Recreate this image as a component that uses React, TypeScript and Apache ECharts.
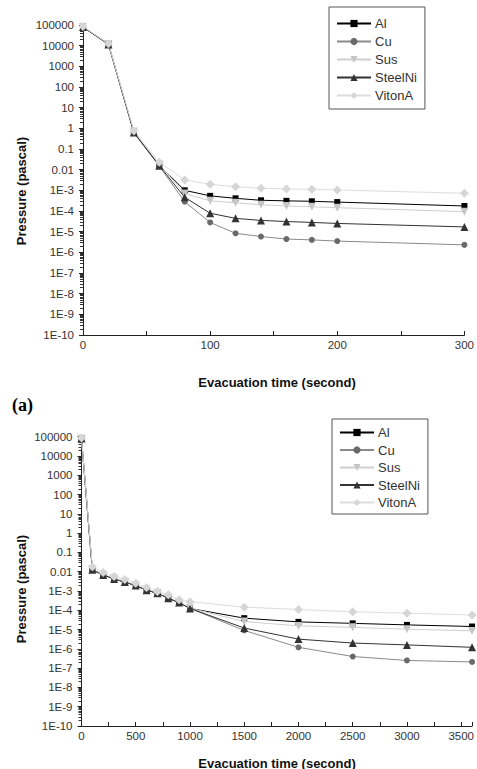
import React, { useEffect, useRef } from "react";
import * as echarts from "echarts";

const seriesNames = ["Al", "Cu", "Sus", "SteelNi", "VitonA"];

// Chart (a)
const timeA = [0, 20, 40, 60, 80, 100, 120, 140, 160, 180, 200, 300];
const alA = [80000, 12000, 0.65, 0.016, 1.0e-3, 5.4e-4, 4.1e-4, 3.3e-4, 3.1e-4, 2.95e-4, 2.7e-4, 1.75e-4];
const cuA = [80000, 12000, 0.62, 0.015, 2.8e-4, 2.8e-5, 8.3e-6, 5.8e-6, 4.4e-6, 4.0e-6, 3.5e-6, 2.3e-6];
const susA = [80000, 12000, 0.7, 0.018, 7.0e-4, 3.1e-4, 2.5e-4, 2.0e-4, 1.75e-4, 1.6e-4, 1.45e-4, 9.3e-5];
const steelNiA = [80000, 11500, 0.62, 0.0155, 4.6e-4, 7.8e-5, 4.4e-5, 3.5e-5, 3.1e-5, 2.8e-5, 2.5e-5, 1.7e-5];
const vitonA_A = [85000, 12500, 0.75, 0.023, 3.2e-3, 1.95e-3, 1.5e-3, 1.26e-3, 1.17e-3, 1.12e-3, 1.04e-3, 7.2e-4];

// Chart (b)
const timeB = [0, 100, 200, 300, 400, 500, 600, 700, 800, 900, 1000, 1500, 2000, 2500, 3000, 3600];
const alB = [80000, 0.0125, 6.8e-3, 4.2e-3, 2.9e-3, 1.9e-3, 1.1e-3, 7.7e-4, 4.2e-4, 2.5e-4, 1.25e-4, 3.9e-5, 2.5e-5, 2.1e-5, 1.75e-5, 1.44e-5];
const cuB = [80000, 0.0125, 6.8e-3, 4.2e-3, 2.9e-3, 1.9e-3, 1.1e-3, 7.7e-4, 4.2e-4, 2.5e-4, 1.25e-4, 9.0e-6, 1.2e-6, 4.0e-7, 2.5e-7, 2.1e-7];
const susB = [80000, 0.013, 7.0e-3, 4.4e-3, 3.0e-3, 2.0e-3, 1.15e-3, 8.0e-4, 4.5e-4, 2.6e-4, 1.3e-4, 2.6e-5, 1.55e-5, 1.3e-5, 1.05e-5, 8.5e-6];
const steelNiB = [80000, 0.0125, 6.8e-3, 4.2e-3, 2.9e-3, 1.9e-3, 1.1e-3, 7.7e-4, 4.2e-4, 2.5e-4, 1.25e-4, 1.2e-5, 3.2e-6, 2.0e-6, 1.6e-6, 1.2e-6];
const vitonA_B = [85000, 0.018, 9.0e-3, 5.6e-3, 4.0e-3, 2.5e-3, 1.5e-3, 9.3e-4, 6.3e-4, 3.5e-4, 2.8e-4, 1.45e-4, 1.1e-4, 8.3e-5, 7.1e-5, 5.7e-5];

// y tick labels, indexed by exponent + 10
const yTickLabels = [
  "1E-10", "1E-9", "1E-8", "1E-7", "1E-6", "1E-5", "1E-4", "1E-3",
  "0.01", "0.1", "1", "10", "100", "1000", "10000", "100000",
];

const styles = [
  { symbol: "rect", size: 6, marker: "#000000", line: "#000000" },
  { symbol: "circle", size: 6, marker: "#6a6a6a", line: "#8a8a8a" },
  { symbol: "path://M0,0 L10,0 L5,8 Z", size: 8, marker: "#c6c6c6", line: "#cfcfcf" },
  { symbol: "triangle", size: 8, marker: "#333333", line: "#333333" },
  { symbol: "diamond", size: 9, marker: "#d6d6d6", line: "#dddddd" },
];

const FONT = "Liberation Sans";

function makeYAxis(gridIndex: number) {
  return {
    type: "log",
    gridIndex,
    logBase: 10,
    min: 1e-10,
    max: 1e5,
    splitNumber: 15,
    interval: 1,
    axisLine: { show: true, lineStyle: { color: "#222", width: 1 } },
    axisTick: { show: true, length: 4, inside: false, lineStyle: { color: "#222" } },
    minorTick: { show: true, splitNumber: 9, length: 3, lineStyle: { color: "#333" } },
    splitLine: { show: false },
    minorSplitLine: { show: false },
    axisLabel: {
      margin: 9,
      fontFamily: FONT,
      fontSize: 11.5,
      color: "#333",
      formatter: (v: number) => {
        const e = Math.round(Math.log10(v));
        return yTickLabels[e + 10] ?? "";
      },
    },
  };
}

function makeXAxis(gridIndex: number, max: number, interval: number) {
  return {
    type: "value",
    gridIndex,
    min: 0,
    max,
    interval,
    axisLine: { show: true, onZero: false, lineStyle: { color: "#222", width: 1 } },
    axisTick: { show: true, length: 4, inside: true, lineStyle: { color: "#222" } },
    minorTick: { show: true, splitNumber: 2, length: 4, lineStyle: { color: "#222" } },
    splitLine: { show: false },
    axisLabel: {
      margin: 4,
      fontFamily: FONT,
      fontSize: 11.5,
      color: "#333",
      showMaxLabel: max % interval === 0,
      formatter: (v: number) => String(v),
    },
  };
}

function makeSeries(gridIndex: number, xs: number[], data: number[][]) {
  return data.map((ys, i) => ({
    type: "line",
    name: seriesNames[i],
    xAxisIndex: gridIndex,
    yAxisIndex: gridIndex,
    data: xs.map((x, j) => [x, ys[j]]),
    symbol: styles[i].symbol,
    symbolSize: styles[i].size,
    showAllSymbol: true,
    clip: false,
    itemStyle: { color: styles[i].marker },
    lineStyle: { color: styles[i].line, width: 1 },
    emphasis: { disabled: true },
  }));
}

function makeLegend(left: number, top: number, gap: number, padding: number[]) {
  return {
    orient: "vertical",
    left,
    top,
    itemWidth: 34,
    itemHeight: 9,
    itemGap: gap,
    padding,
    borderColor: "#555",
    borderWidth: 1,
    selectedMode: false,
    data: seriesNames,
    textStyle: { fontFamily: FONT, fontSize: 13, color: "#333", padding: [0, 0, 0, -1] },
  };
}

export default function App() {
  const ref = useRef<HTMLDivElement>(null);
  useEffect(() => {
    if (!ref.current) return;
    const chart = echarts.init(ref.current, undefined, { renderer: "svg" });
    chart.setOption({
      animation: false,
      backgroundColor: "#ffffff",
      grid: [
        { left: 83, top: 25, width: 384, height: 310 },
        { left: 81.5, top: 436.7, width: 391, height: 289.3 },
      ],
      xAxis: [makeXAxis(0, 300, 100), makeXAxis(1, 3600, 500)],
      yAxis: [makeYAxis(0), makeYAxis(1)],
      legend: [
        makeLegend(329, 7, 5, [10, 8, 7, 7]),
        makeLegend(332, 419, 4.5, [7, 8, 5, 7]),
      ],
      series: [
        ...makeSeries(0, timeA, [alA, cuA, susA, steelNiA, vitonA_A]),
        ...makeSeries(1, timeB, [alB, cuB, susB, steelNiB, vitonA_B]),
      ],
      graphic: [
        {
          type: "text",
          x: 277,
          y: 382,
          style: { text: "Evacuation time (second)", fontFamily: FONT, fontSize: 13, fontWeight: "bold", fill: "#111", align: "center", verticalAlign: "middle" },
        },
        {
          type: "text",
          x: 277,
          y: 763,
          style: { text: "Evacuation time (second)", fontFamily: FONT, fontSize: 13, fontWeight: "bold", fill: "#111", align: "center", verticalAlign: "middle" },
        },
        {
          type: "text",
          x: 21,
          y: 191,
          rotation: Math.PI / 2,
          style: { text: "Pressure (pascal)", fontFamily: FONT, fontSize: 13, fontWeight: "bold", fill: "#111", align: "center", verticalAlign: "middle" },
        },
        {
          type: "text",
          x: 21,
          y: 589,
          rotation: Math.PI / 2,
          style: { text: "Pressure (pascal)", fontFamily: FONT, fontSize: 13, fontWeight: "bold", fill: "#111", align: "center", verticalAlign: "middle" },
        },
        {
          type: "text",
          x: 12,
          y: 405,
          style: { text: "(a)", fontFamily: "Liberation Serif", fontSize: 18, fontWeight: "bold", fill: "#000", align: "left", verticalAlign: "middle" },
        },
      ],
    });
    return () => chart.dispose();
  }, []);
  return (
    <div
      ref={ref}
      style={{ position: "fixed", left: 0, top: 0, width: 477, height: 769, background: "#fff" }}
    />
  );
}
